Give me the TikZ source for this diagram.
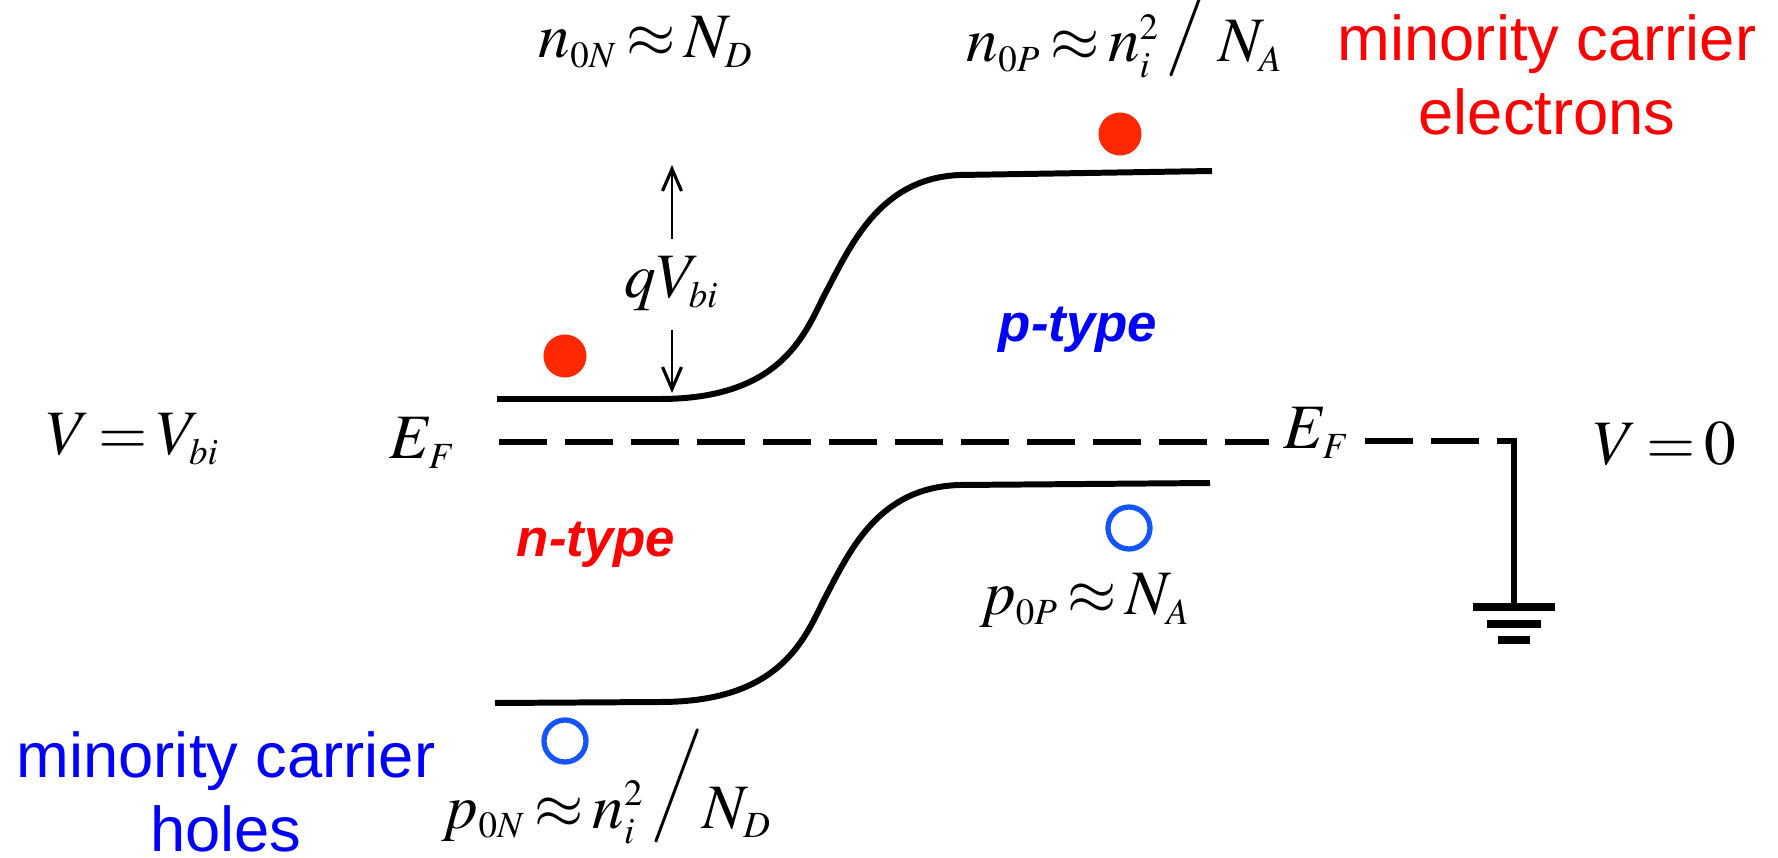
\documentclass[tikz,border=0pt]{standalone}
\usepackage{mathptmx}
\usepackage[no-math]{fontspec}
\setsansfont{Liberation Sans}
\usetikzlibrary{arrows.meta, positioning}
\definecolor{dotred}{RGB}{255,40,0}
\definecolor{holeblue}{RGB}{20,85,255}
\definecolor{lblred}{RGB}{255,0,0}
\definecolor{lblblue}{RGB}{0,0,255}
\DeclareMathSizes{18}{18}{10.5}{8}
\thickmuskip=2.5mu plus 2mu
\newcommand{\bigslash}{\mkern2mu\raisebox{7.5pt}{$\Big/$}}

\begin{document}
\begin{tikzpicture}[
    x=0.01cm, y=-0.01cm,
    every node/.style={inner sep=0pt},
    mathlbl/.style={font=\fontsize{18}{21}\selectfont, anchor=base},
    carrierlbl/.style={font=\sffamily\fontsize{18}{21}\selectfont, align=center},
    typelbl/.style={font=\sffamily\bfseries\itshape\fontsize{15}{18}\selectfont, anchor=base},
    bandline/.style={line width=1.7pt},
    fermiline/.style={line width=1.7pt, dash pattern=on 4.8mm off 1.8mm},
    dimarrow/.style={line width=0.5pt, -{Straight Barb[length=2.2mm, width=1.9mm, line width=0.9pt]}},
    electron/.style={circle, fill=dotred, minimum size=0.43cm},
    hole/.style={circle, draw=holeblue, line width=1.5pt, minimum size=0.42cm},
    gndbar/.style={line width=2pt}
]
\useasboundingbox (0,0) rectangle (1778,858);

% -------- Conduction and valence band edges --------
\draw[bandline] (497,399) -- (660,399) .. controls (785,399) and (806,330) .. (826,292)
    .. controls (851,245) and (880,178) .. (960,175) -- (1212,171);
\draw[bandline] (495,703) -- (660,702) .. controls (785,702) and (806,634) .. (826,596)
    .. controls (851,548) and (880,487) .. (960,485) -- (1210,483);

% -------- Fermi level and ground --------
\node[mathlbl] (efL) at (423,459) {$E_F$};
\node[mathlbl, inner xsep=4pt] (efR) at (1317,449) {$E_F$};
\coordinate (fstart) at (499,442);
\coordinate (gtop) at (1514,441);
\coordinate (gnd) at (1514,607);
\draw[fermiline] (fstart) -- (fstart -| efR.west);
\draw[fermiline] (gtop -| efR.east) -- (gtop);
\draw[bandline, line cap=rect] (gtop) -- (gnd);
\draw[gndbar] (gnd) ++(-41,0) -- ++(82,0);
\draw[gndbar] (gnd) ++(-27,17) -- ++(54,0);
\draw[gndbar] (gnd) ++(-16,33) -- ++(32,0);

% -------- Built-in potential --------
\node[mathlbl, inner ysep=5pt] (qvbi) at (672,298) {$qV_{bi}$};
\coordinate (qtop) at (672,165);
\coordinate (qbot) at (672,393);
\draw[dimarrow] (qvbi.north) -- (qtop);
\draw[dimarrow] (qvbi.south) -- (qbot);

% -------- Carriers --------
\node[electron] (eN) at (565,356) {};
\node[electron] (eP) at (1120,134) {};
\node[hole]     (hN) at (565,741) {};
\node[hole]     (hP) at (1129,528) {};

% -------- Concentrations and potentials --------
\node[mathlbl] (n0N) at (646,58)  {$n_{0N} \approx N_D$};
\node[mathlbl] (n0P) at (1125,62) {$n_{0P} \approx n_i^2\bigslash N_A$};
\node[mathlbl] (p0P) at (1085,615) {$p_{0P} \approx N_A$};
\node[mathlbl] (p0N) at (607,828) {$p_{0N} \approx n_i^2\bigslash N_D$};
\node[mathlbl] (vbi)   at (133,455)  {$V = V_{bi}$};
\node[mathlbl] (vzero) at (1665,465) {$V = 0$};

% -------- Region and carrier labels --------
\node[typelbl, text=lblred]  (ntype) at (596,557)  {n-type};
\node[typelbl, text=lblblue] (ptype) at (1078,342) {p-type};
\node[carrierlbl, text=lblred]  (minel) at (1547,75)  {minority carrier\\electrons};
\node[carrierlbl, text=lblblue] (minho) at (226,792)  {minority carrier\\holes};

\end{tikzpicture}
\end{document}
